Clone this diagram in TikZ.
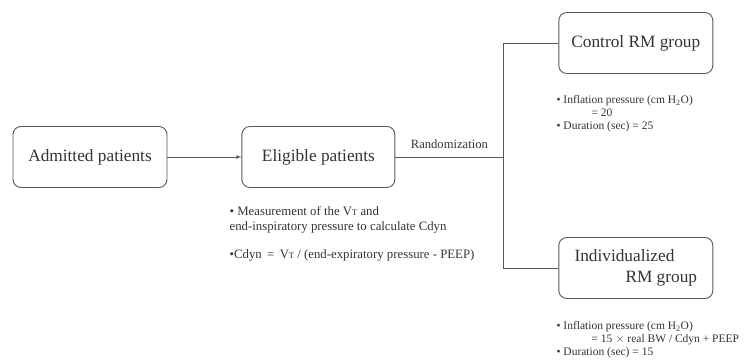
\documentclass[tikz,border=0pt]{standalone}
\usepackage{fontspec}
\setmainfont{Liberation Serif}
\usepackage{tikz}
\usetikzlibrary{positioning, arrows, calc}

\definecolor{linec}{gray}{0.35}
\definecolor{textc}{gray}{0.2}
\newcommand{\vtidal}{V{\fontsize{8.5}{8.5}\selectfont T}}

\begin{document}
\begin{tikzpicture}[x=1pt, y=1pt, node distance=74pt,
	box/.style={draw=linec, line width=0.9pt, rounded corners=8pt, minimum width=154pt, minimum height=61pt, text=textc, font=\fontsize{17.3}{20.5}\selectfont},
	note/.style={anchor=north west, inner sep=0pt, align=left, text=textc},
	link/.style={draw=linec, line width=0.8pt}]
					\useasboundingbox (0,0) rectangle (745,362);
					\node[box] (adm) at (90,205) {Admitted patients};
					\node[box, right=of adm, minimum width=153pt] (elig) {Eligible patients};
					\coordinate[right=108pt of elig] (split);
					\node[box, right=55pt of split, yshift=114pt, minimum width=154pt] (ctrl) {Control RM group};
					\node[box, right=55pt of split, yshift=-111pt, align=left] (indiv) {Individualized\\\hspace*{51pt}RM group};
					
					\node[note, font=\fontsize{12.8}{15.5}\selectfont] (eligNote) at ([xshift=-12pt, yshift=-18pt]elig.south west)
					{\textbullet{} Measurement of the \vtidal{} and\\ end-inspiratory pressure to calculate Cdyn\\[12pt]\textbullet Cdyn \,=\, \vtidal{} / (end-expiratory pressure - PEEP)};
					\node[note, font=\fontsize{11.5}{13.2}\selectfont] (ctrlNote) at ([xshift=-2pt, yshift=-21pt]ctrl.south west)
					{\textbullet{} Inflation pressure (cm H\textsubscript{2}O)\\ \hspace*{35pt}= 20\\ \textbullet{} Duration (sec) = 25};
					\node[note, font=\fontsize{11.5}{13.2}\selectfont] (indivNote) at ([xshift=-2pt, yshift=-22pt]indiv.south west)
					{\textbullet{} Inflation pressure (cm H\textsubscript{2}O)\\ \hspace*{35pt}= 15 $\times$ real BW / Cdyn + PEEP\\ \textbullet{} Duration (sec) = 15};
					
					\draw[link, -latex] (adm) -- (elig);
					\draw[link] (elig) -- node[above=5pt, text=textc, font=\fontsize{12.6}{14}\selectfont] (rand) {Randomization} (split);
					\draw[link] (ctrl.west) -| (split) |- (indiv.west);
				\end{tikzpicture}
\end{document}
